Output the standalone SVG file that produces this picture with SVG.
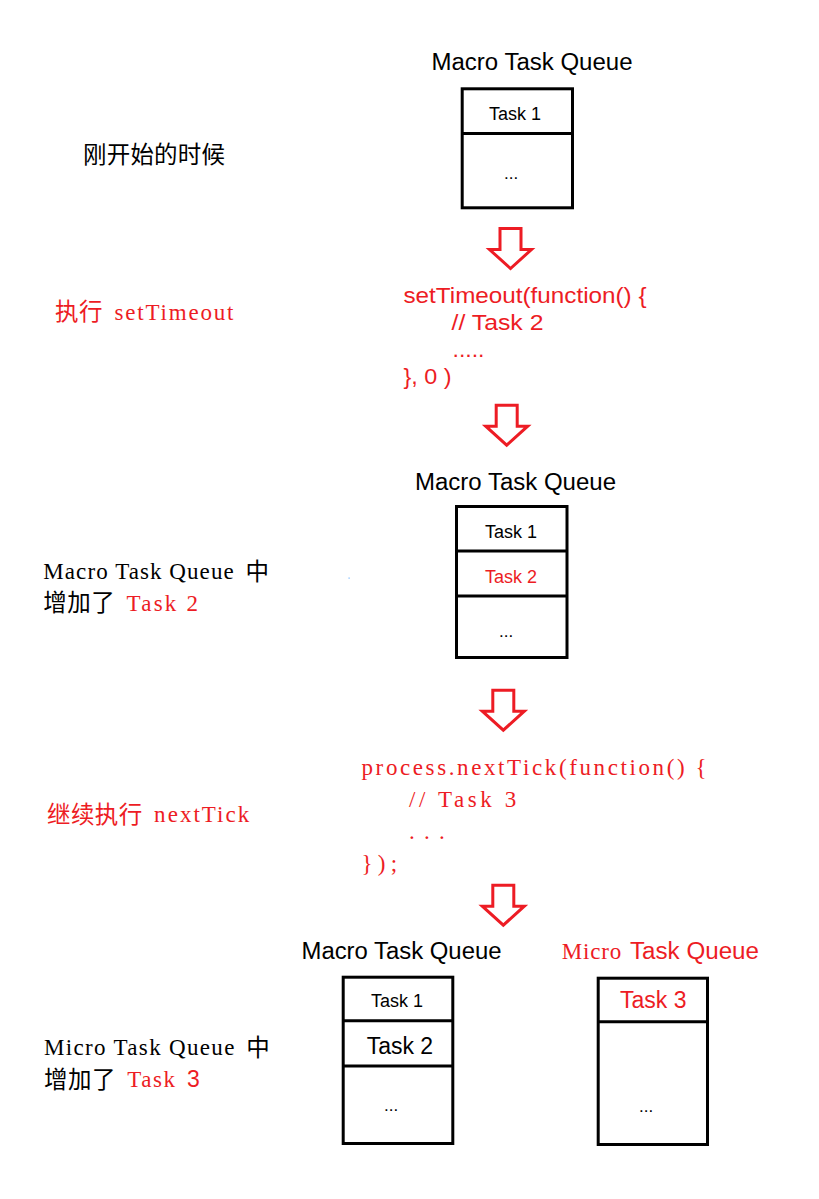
<svg xmlns="http://www.w3.org/2000/svg" width="819" height="1199" viewBox="0 0 819 1199">
<style>
.bg{fill:#fff}
.box{fill:none;stroke:#000;stroke-width:3}
.div{stroke:#000;stroke-width:3}
.arrow{fill:none;stroke:#ED1C24;stroke-width:3;stroke-linejoin:miter}
.sans{font-family:"Liberation Sans",Arial,sans-serif}
.title{font-family:"Liberation Sans",Arial,sans-serif;font-size:23.5px}
.task{font-family:"Liberation Sans",Arial,sans-serif;font-size:18px}
.big{font-family:"Liberation Sans",Arial,sans-serif;font-size:23px}
.dots{font-family:"Liberation Sans",Arial,sans-serif;font-size:17px}
.serif{font-family:"Liberation Serif","Times New Roman",serif;font-size:23px}
.cjk{font-family:"Noto Sans CJK SC","Noto Sans",sans-serif;font-size:23.5px}
.red{fill:#ED1C24}
.blk{fill:#000}
</style>
<defs>
<path id="arr" d="M-10.5,-41.5 H10.5 V-20.5 H21 L0,-1.5 L-21,-20.5 H-10.5 Z"/>
</defs>
<rect class="bg" x="0" y="0" width="819" height="1199"/>

<g id="label-start">
<text class="cjk blk" x="83" y="163" textLength="142" lengthAdjust="spacing">刚开始的时候</text>
</g>

<g id="queue-1">
<text class="title blk" x="431.5" y="70" textLength="201" lengthAdjust="spacingAndGlyphs">Macro Task Queue</text>
<rect class="box" x="462.2" y="88.8" width="110.3" height="119"/>
<line class="div" x1="462.2" y1="133.5" x2="572.5" y2="133.5"/>
<text class="task blk" x="489" y="120">Task 1</text>
<text class="dots blk" x="504" y="179">...</text>
</g>

<g id="label-settimeout">
<text class="cjk red" x="55" y="320" textLength="47.6" lengthAdjust="spacing">执行</text>
<text class="serif red" x="114.5" y="320" textLength="119" lengthAdjust="spacing">setTimeout</text>
</g>

<g id="code-settimeout" class="sans red" font-size="22">
<text x="403.5" y="303" textLength="243" lengthAdjust="spacingAndGlyphs">setTimeout(function() {</text>
<text x="451.5" y="330" textLength="92" lengthAdjust="spacingAndGlyphs">// Task 2</text>
<text x="452.5" y="357" textLength="32" lengthAdjust="spacingAndGlyphs">.....</text>
<text x="403.5" y="384" textLength="48" lengthAdjust="spacingAndGlyphs">}, 0 )</text>
</g>

<g id="queue-2">
<text class="title blk" x="415" y="490" textLength="201" lengthAdjust="spacingAndGlyphs">Macro Task Queue</text>
<rect class="box" x="456.5" y="506.5" width="110.5" height="151"/>
<line class="div" x1="456.5" y1="551" x2="567" y2="551"/>
<line class="div" x1="456.5" y1="596" x2="567" y2="596"/>
<text class="task blk" x="485" y="538">Task 1</text>
<text class="task red" x="485" y="583">Task 2</text>
<text class="dots blk" x="499" y="637">...</text>
</g>

<g id="label-macro-added">
<text class="serif blk" x="43.3" y="579" textLength="190.4" lengthAdjust="spacing">Macro Task Queue</text>
<text class="cjk blk" x="245.6" y="580">中</text>
<text class="cjk blk" x="43.3" y="611" textLength="71.4" lengthAdjust="spacing">增加了</text>
<text class="serif red" x="126.6" y="610.5" textLength="71.4" lengthAdjust="spacing">Task 2</text>
<rect x="348.5" y="577.5" width="1.2" height="1.2" fill="#6fb4ff"/>
</g>

<g id="label-nexttick">
<text class="cjk red" x="47" y="823" textLength="95.2" lengthAdjust="spacing">继续执行</text>
<text class="serif red" x="154.1" y="822" textLength="95.2" lengthAdjust="spacing">nextTick</text>
</g>

<g id="code-nexttick" class="serif red">
<text x="361.5" y="775" textLength="345.1" lengthAdjust="spacing">process.nextTick(function() {</text>
<text x="409.1" y="807" textLength="107.1" lengthAdjust="spacing">// Task 3</text>
<text x="409.1" y="839" textLength="35.7" lengthAdjust="spacing">...</text>
<text x="361.5" y="871" textLength="35.7" lengthAdjust="spacing">});</text>
</g>

<g id="queue-3">
<text class="title blk" x="301.5" y="959" textLength="200" lengthAdjust="spacingAndGlyphs">Macro Task Queue</text>
<rect class="box" x="343.2" y="977.2" width="109.6" height="166.3"/>
<line class="div" x1="343.2" y1="1020.7" x2="452.8" y2="1020.7"/>
<line class="div" x1="343.2" y1="1066" x2="452.8" y2="1066"/>
<text class="task blk" x="371" y="1007">Task 1</text>
<text class="big blk" x="366.7" y="1054">Task 2</text>
<text class="dots blk" x="384" y="1111">...</text>
</g>

<g id="queue-4">
<text class="serif red" x="561.7" y="959" textLength="59.5" lengthAdjust="spacing">Micro</text>
<text class="title red" x="630" y="959" textLength="129" lengthAdjust="spacingAndGlyphs">Task Queue</text>
<rect class="box" x="598.2" y="978.2" width="109.3" height="166.3"/>
<line class="div" x1="598.2" y1="1021.7" x2="707.5" y2="1021.7"/>
<text class="big red" x="620" y="1008" font-size="23.3">Task 3</text>
<text class="dots blk" x="639" y="1112">...</text>
</g>

<g id="label-micro-added">
<text class="serif blk" x="44" y="1055" textLength="190.4" lengthAdjust="spacing">Micro Task Queue</text>
<text class="cjk blk" x="246.3" y="1056">中</text>
<text class="cjk blk" x="44" y="1087.5" textLength="71.4" lengthAdjust="spacing">增加了</text>
<text class="serif red" x="127.3" y="1087" textLength="47.6" lengthAdjust="spacing">Task</text>
<text class="big red" x="187" y="1087">3</text>
</g>

<g id="connectors">
<use href="#arr" class="arrow" transform="translate(510.5,270)"/>
<use href="#arr" class="arrow" transform="translate(506.7,446.7)"/>
<use href="#arr" class="arrow" transform="translate(503.3,731.7)"/>
<use href="#arr" class="arrow" transform="translate(503.3,926.7)"/>
</g>
</svg>
